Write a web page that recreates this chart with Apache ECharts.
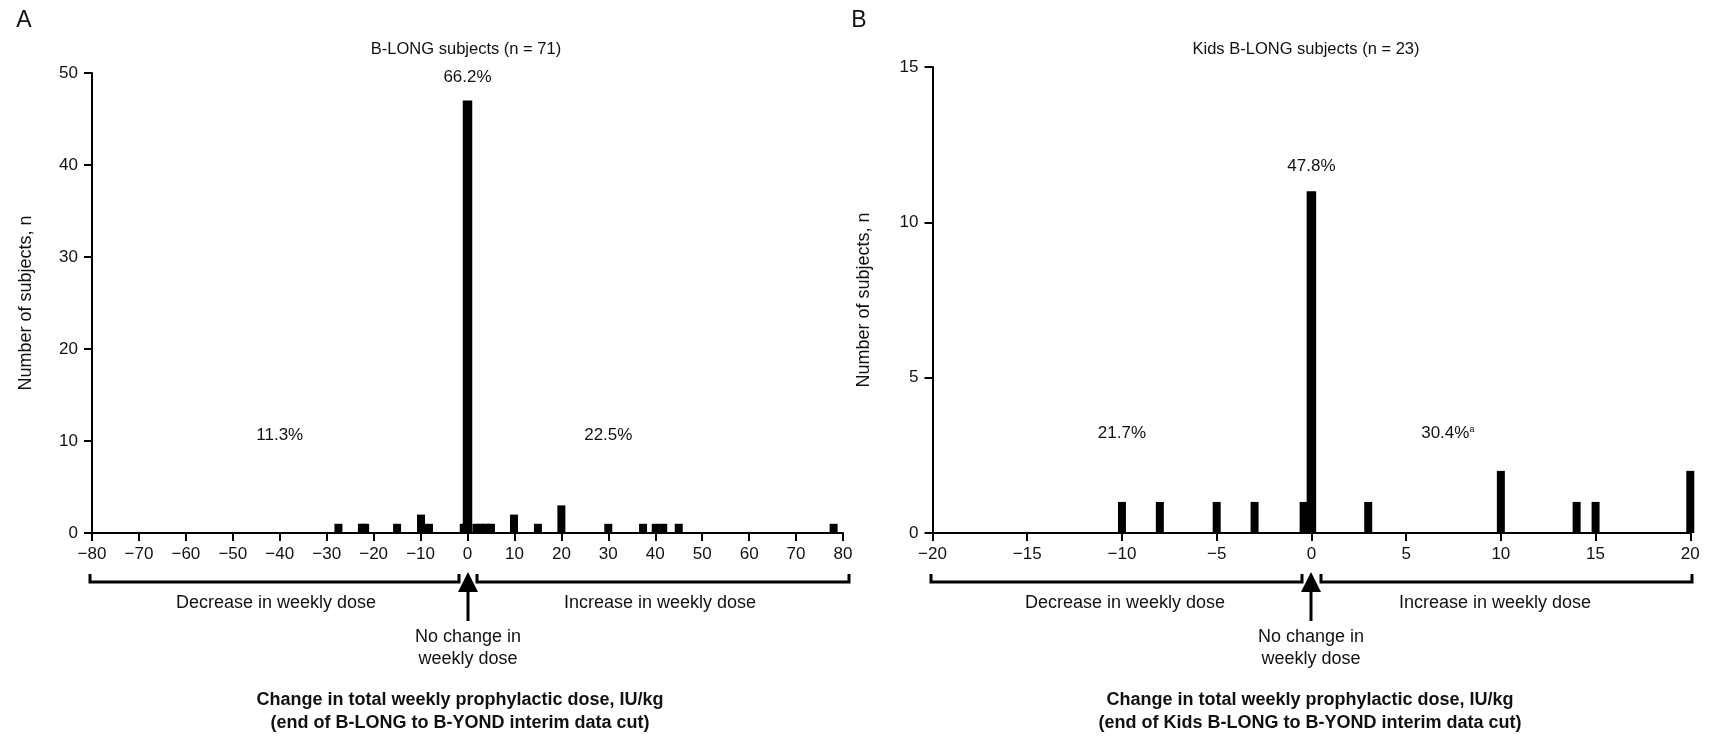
<!DOCTYPE html>
<html>
<head>
<meta charset="utf-8">
<script src="https://cdn.jsdelivr.net/npm/echarts@6/dist/echarts.min.js"></script>
<style>
html,body{margin:0;padding:0;background:#fff;}
#chart{width:1711px;height:741px;}
</style>
</head>
<body>
<div id="chart"></div>
<script>
// ---------- data ----------
// Panel A: B-LONG subjects (n = 71)
const changeA = [-27.5, -22.5, -21.8, -15, -9.9, -8.2, -0.8, 1.9, 2.9, 3.9, 5.0, 9.9, 15, 20, 30, 37.4, 40.1, 41.7, 45, 78, 0];
const countA  = [1, 1, 1, 1, 2, 1, 1, 1, 1, 1, 1, 2, 1, 3, 1, 1, 1, 1, 1, 1, 47];
// Panel B: Kids B-LONG subjects (n = 23)
const changeB = [-10, -8, -5, -3, -0.41, 3, 10, 14, 15, 20, 0];
const countB  = [1, 1, 1, 1, 1, 1, 2, 1, 1, 2, 11];

// percentage annotations [x, y, text]
const pctA = [[-40, 10.6, '11.3%'], [0, 49.5, '66.2%'], [30, 10.6, '22.5%']];
const pctB = [[-10, 3.2, '21.7%'], [0, 11.8, '47.8%'], [7.2, 3.2, '30.4%']];
const pctSupB = [false, false, true];

const titleA = 'B-LONG subjects (n = 71)';
const titleB = 'Kids B-LONG subjects (n = 23)';
const yName = 'Number of subjects, n';
const xTitleA = ['Change in total weekly prophylactic dose, IU/kg', '(end of B-LONG to B-YOND interim data cut)'];
const xTitleB = ['Change in total weekly prophylactic dose, IU/kg', '(end of Kids B-LONG to B-YOND interim data cut)'];
const decText = 'Decrease in weekly dose';
const incText = 'Increase in weekly dose';
const noChange = ['No change in', 'weekly dose'];

// ---------- style ----------
const FONT = '"Liberation Sans", Arial, Helvetica, sans-serif';
const INK = '#111';

function fmt(v){ return v < 0 ? '\u2212' + Math.abs(v) : String(v); }

function barRender(params, api){
  const x = api.value(0), y = api.value(1);
  const p0 = api.coord([x, 0]);
  const p1 = api.coord([x, y]);
  const w = x === 0 ? 9.5 : 8;
  return {type:'rect', shape:{x:p0[0]-w/2, y:p1[1], width:w, height:p0[1]-p1[1]}, style:{fill:'#000'}};
}

function axisX(idx, min, max, interval){
  return {gridIndex: idx, type:'value', min, max, interval,
    axisLine:{show:true, onZero:false, lineStyle:{color:'#000', width:2}},
    axisTick:{show:true, length:8, lineStyle:{color:'#000', width:2}},
    axisLabel:{fontSize:17, fontFamily:FONT, color:INK, margin:13, formatter: fmt},
    splitLine:{show:false}};
}
function axisY(idx, min, max, interval, gap){
  return {gridIndex: idx, type:'value', min, max, interval,
    name: yName, nameLocation:'middle', nameGap: gap, nameRotate:90,
    nameTextStyle:{fontSize:18, fontFamily:FONT, color:INK},
    axisLine:{show:true, onZero:false, lineStyle:{color:'#000', width:2}},
    axisTick:{show:true, length:8, lineStyle:{color:'#000', width:2}},
    axisLabel:{fontSize:17, fontFamily:FONT, color:INK, margin:14},
    splitLine:{show:false}};
}

const dataA = changeA.map((v,i)=>[v, countA[i]]);
const dataB = changeB.map((v,i)=>[v, countB[i]]);

function pctSeries(idx, arr, sup){
  return {type:'scatter', xAxisIndex:idx, yAxisIndex:idx, symbolSize:0, silent:true,
    itemStyle:{opacity:1},
    data: arr.map((d,i)=>({value:[d[0], d[1]], name:d[2], sup: sup ? sup[i] : false})),
    label:{show:true, position:'inside', opacity:1, fontSize:17, fontFamily:FONT, color:INK,
      formatter: p => p.data.sup ? p.data.name + '{s|a}' : p.data.name,
      rich:{s:{fontSize:9, fontFamily:FONT, color:INK, padding:[0,0,9,0]}}}};
}

function txt(x, y, text, size, weight){
  return {type:'text', x, y, silent:true, style:{text, fontSize:size, fontFamily:FONT, fontWeight:weight||'normal', fill:INK, align:'center', verticalAlign:'middle'}};
}
function bracket(x0, x1, y){
  return {type:'polyline', silent:true, shape:{points:[[x0,y-8],[x0,y],[x1,y],[x1,y-8]]}, style:{stroke:'#000', lineWidth:3, fill:null}};
}
function arrow(x, tip){
  return [
    {type:'polygon', silent:true, shape:{points:[[x,tip],[x-10,tip+20],[x+10,tip+20]]}, style:{fill:'#000'}},
    {type:'rect', silent:true, shape:{x:x-1.5, y:tip+18, width:3, height:31}, style:{fill:'#000'}}
  ];
}

const chart = echarts.init(document.getElementById('chart'), null, {renderer:'canvas'});
chart.setOption({
  backgroundColor:'#fff',
  animation:false,
  grid:[
    {left:92, right:868, top:73, bottom:208},
    {left:932.5, right:20.7, top:67, bottom:208}
  ],
  xAxis:[axisX(0,-80,80,10), axisX(1,-20,20,5)],
  yAxis:[axisY(0,0,50,10,57), axisY(1,0,15,5,59)],
  series:[
    {type:'custom', xAxisIndex:0, yAxisIndex:0, renderItem:barRender, data:dataA, encode:{x:0,y:1}},
    {type:'custom', xAxisIndex:1, yAxisIndex:1, renderItem:barRender, data:dataB, encode:{x:0,y:1}},
    pctSeries(0, pctA),
    pctSeries(1, pctB, pctSupB)
  ],
  graphic:[
    txt(24, 21, 'A', 23),
    txt(859, 21, 'B', 23),
    txt(466, 49, titleA, 16.5),
    txt(1306, 49, titleB, 16.5),
    bracket(90, 459, 582), bracket(477, 849, 582),
    bracket(931, 1302, 582), bracket(1321, 1692, 582),
    ...arrow(468, 572), ...arrow(1311, 572),
    txt(276, 603, decText, 18), txt(660, 603, incText, 18),
    txt(1125, 603, decText, 18), txt(1495, 603, incText, 18),
    txt(468, 637, noChange[0], 18), txt(468, 659, noChange[1], 18),
    txt(1311, 637, noChange[0], 18), txt(1311, 659, noChange[1], 18),
    txt(460, 700, xTitleA[0], 18, 'bold'), txt(460, 723, xTitleA[1], 18, 'bold'),
    txt(1310, 700, xTitleB[0], 18, 'bold'), txt(1310, 723, xTitleB[1], 18, 'bold')
  ]
});
</script>
</body>
</html>
